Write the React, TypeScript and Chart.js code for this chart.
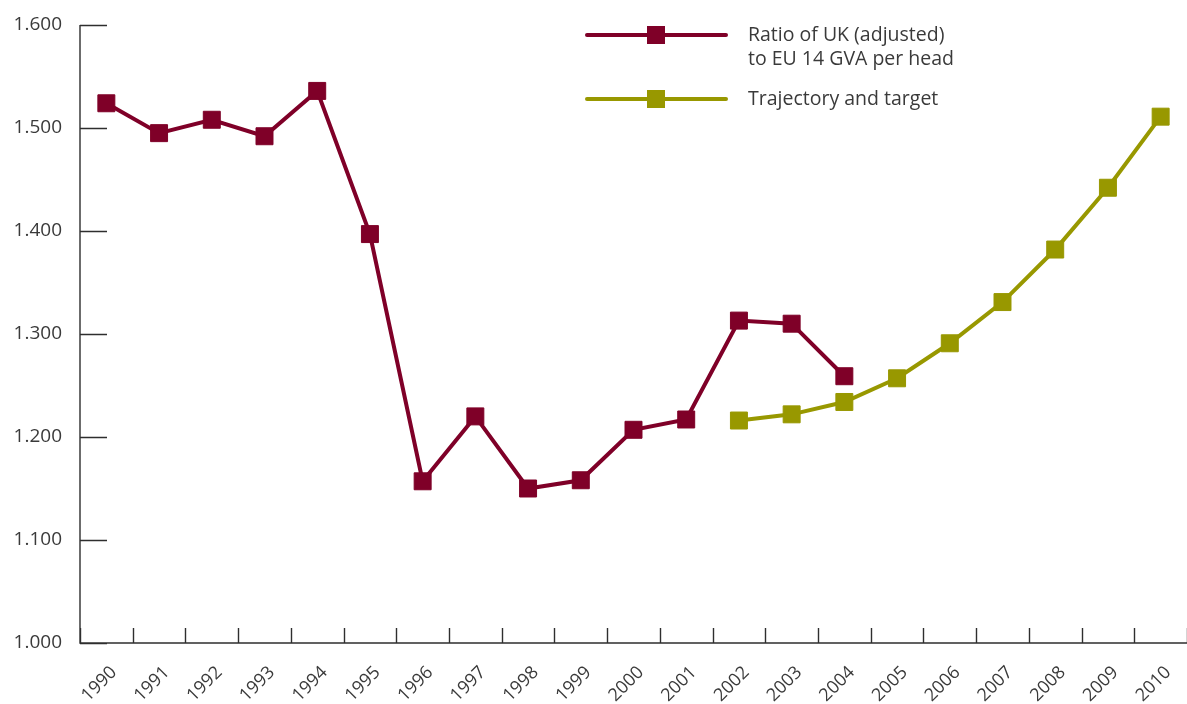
import React, { useEffect, useRef } from "react";
import { Chart, registerables } from "chart.js";

Chart.register(...registerables);

const years = [
  "1990", "1991", "1992", "1993", "1994", "1995", "1996", "1997", "1998", "1999", "2000",
  "2001", "2002", "2003", "2004", "2005", "2006", "2007", "2008", "2009", "2010",
];

const ukRatio: (number | null)[] = [
  1.524, 1.495, 1.508, 1.492, 1.536, 1.397, 1.157, 1.22, 1.15, 1.158, 1.207,
  1.217, 1.313, 1.31, 1.259, null, null, null, null, null, null,
];

const trajectory: (number | null)[] = [
  null, null, null, null, null, null, null, null, null, null, null,
  null, 1.216, 1.222, 1.234, 1.257, 1.291, 1.331, 1.382, 1.442, 1.511,
];

const yMin = 1.0;
const yMax = 1.6;
const yStep = 0.1;

const seriesLabels: string[][] = [
  ["Ratio of UK (adjusted)", "to EU 14 GVA per head"],
  ["Trajectory and target"],
];

const MAROON = "#7f0028";
const OLIVE = "#989800";
const AXIS = "#2e2e2e";
const TEXT = "#3a3a3a";
const FONT = "'Open Sans', 'Noto Sans', sans-serif";

const axesPlugin = {
  id: "customAxes",
  beforeDatasetsDraw(chart: any) {
    const { ctx, chartArea } = chart;
    const x = chart.scales.x;
    const y = chart.scales.y;
    ctx.save();
    ctx.strokeStyle = AXIS;
    ctx.lineWidth = 1.4;
    ctx.beginPath();
    const top = y.getPixelForValue(yMax);
    ctx.moveTo(chartArea.left, top);
    ctx.lineTo(chartArea.left, chartArea.bottom);
    ctx.lineTo(chartArea.right, chartArea.bottom);
    y.ticks.forEach((t: any) => {
      const py = Math.round(y.getPixelForValue(t.value)) + 0.5;
      ctx.moveTo(chartArea.left, py);
      ctx.lineTo(chartArea.left + 27, py);
    });
    const half = (x.getPixelForValue(1) - x.getPixelForValue(0)) / 2;
    for (let i = 0; i <= years.length; i++) {
      const px = Math.round(x.getPixelForValue(i) - half) + 0.5;
      ctx.moveTo(px, chartArea.bottom);
      ctx.lineTo(px, chartArea.bottom - 15);
    }
    ctx.stroke();

    // rotated category labels
    ctx.fillStyle = TEXT;
    ctx.font = `18px ${FONT}`;
    ctx.textAlign = "right";
    ctx.textBaseline = "middle";
    years.forEach((label, i) => {
      const px = x.getPixelForValue(i);
      ctx.save();
      ctx.translate(px + 7.5, chartArea.bottom + 26.5);
      ctx.rotate(-Math.PI / 4);
      ctx.fillText(label, 0, 0);
      ctx.restore();
    });
    ctx.restore();
  },
  afterDraw(chart: any) {
    const { ctx } = chart;
    const entries = [
      { color: MAROON, lines: seriesLabels[0], y: 35 },
      { color: OLIVE, lines: seriesLabels[1], y: 99 },
    ];
    ctx.save();
    entries.forEach((e) => {
      ctx.strokeStyle = e.color;
      ctx.lineWidth = 4;
      ctx.lineCap = "round";
      ctx.beginPath();
      ctx.moveTo(587, e.y);
      ctx.lineTo(726, e.y);
      ctx.stroke();
      ctx.fillStyle = e.color;
      ctx.fillRect(656 - 9, e.y - 9, 18, 18);
      ctx.fillStyle = TEXT;
      ctx.font = `19.5px ${FONT}`;
      ctx.textBaseline = "middle";
      ctx.textAlign = "left";
      e.lines.forEach((l, i) => ctx.fillText(l, 748, e.y + i * 24));
    });
    ctx.restore();
  },
};

export default function App() {
  const ref = useRef<HTMLCanvasElement | null>(null);

  useEffect(() => {
    if (!ref.current) return;
    const chart = new Chart(ref.current, {
      type: "line",
      data: {
        labels: years,
        datasets: [
          {
            label: seriesLabels[0].join(" "),
            data: ukRatio,
            borderColor: MAROON,
            backgroundColor: MAROON,
            borderWidth: 4,
            pointStyle: "rect",
            pointRadius: 12,
            pointBorderWidth: 1,
            pointBackgroundColor: MAROON,
            pointBorderColor: MAROON,
            tension: 0,
            spanGaps: false,
            clip: false,
          },
          {
            label: seriesLabels[1].join(" "),
            data: trajectory,
            borderColor: OLIVE,
            backgroundColor: OLIVE,
            borderWidth: 4,
            pointStyle: "rect",
            pointRadius: 12,
            pointBorderWidth: 1,
            pointBackgroundColor: OLIVE,
            pointBorderColor: OLIVE,
            tension: 0,
            spanGaps: false,
            clip: false,
          },
        ],
      },
      options: {
        responsive: false,
        animation: false,
        layout: { autoPadding: false, padding: { top: 25, right: 0, left: 0, bottom: 0 } },
        plugins: {
          legend: { display: false },
          tooltip: { enabled: false },
        },
        scales: {
          x: {
            offset: true,
            grid: { display: false, drawTicks: false },
            border: { display: false },
            ticks: { display: false, autoSkip: false },
            afterFit: (s: any) => {
              s.height = 61;
              s.paddingLeft = 0;
              s.paddingRight = 0;
            },
          },
          y: {
            min: yMin,
            max: yMax,
            grid: { display: false, drawTicks: false },
            border: { display: false },
            ticks: {
              stepSize: yStep,
              padding: 18,
              color: TEXT,
              font: { family: FONT, size: 19 },
              callback: (v: any) => Number(v).toFixed(3),
            },
            afterFit: (s: any) => {
              s.width = 80;
              s.paddingTop = 0;
              s.paddingBottom = 0;
            },
          },
        },
      },
      plugins: [axesPlugin],
    });
    return () => chart.destroy();
  }, []);

  return (
    <div style={{ position: "absolute", left: 0, top: 0, width: 1187, height: 704, background: "#fff" }}>
      <canvas ref={ref} width={1187} height={704} style={{ display: "block" }} />
    </div>
  );
}
